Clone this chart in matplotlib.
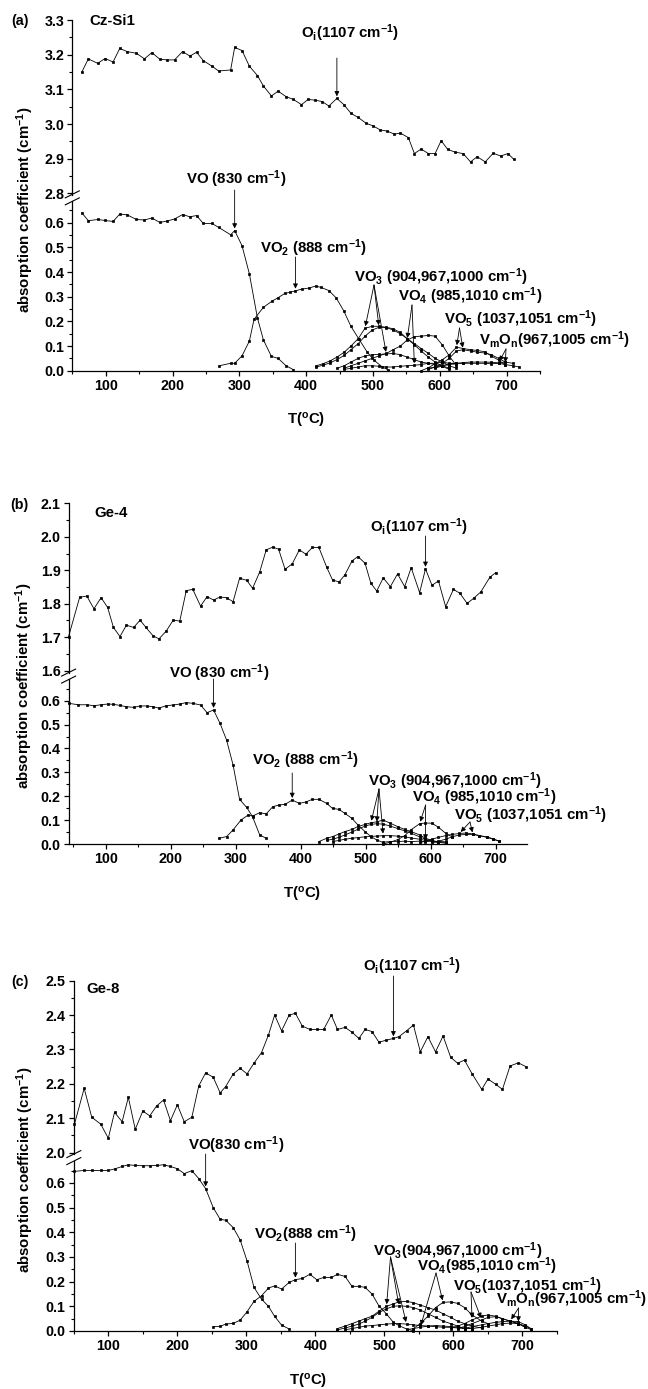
import numpy as np
import matplotlib
matplotlib.use('Agg')
import matplotlib.pyplot as plt
from matplotlib.ticker import MultipleLocator
from matplotlib.lines import Line2D

W, H = 648, 1389

plt.rcParams['font.family'] = ['Liberation Sans', 'DejaVu Sans']
plt.rcParams['font.weight'] = 'bold'
plt.rcParams['mathtext.default'] = 'regular'

TICK_FS = 10.3
TEXT_FS = 10.8
LW = 0.6
MS = 1.9

# ---------------- (a) Cz-Si1 ----------------
a_oi_T = [64, 74, 88, 99, 111, 121, 132, 146, 158, 169, 181, 192, 203, 215, 226, 236, 246, 259, 269, 287,
          293, 304, 315, 327, 336, 348, 358, 370, 381, 393, 403, 413, 424, 434, 446, 457, 467, 478, 490, 500,
          511, 521, 532, 541, 553, 562, 572, 583, 593, 602, 612, 623, 635, 646, 656, 668, 680, 691, 702, 711]
a_oi = [3.149, 3.188, 3.175, 3.189, 3.179, 3.218, 3.209, 3.204, 3.188, 3.206, 3.187, 3.185, 3.185, 3.209, 3.196,
        3.207, 3.183, 3.167, 3.153, 3.156, 3.221, 3.212, 3.167, 3.140, 3.110, 3.081, 3.095, 3.079, 3.071, 3.056,
        3.071, 3.069, 3.065, 3.052, 3.074, 3.055, 3.031, 3.019, 3.002, 2.995, 2.983, 2.980, 2.971, 2.974, 2.961,
        2.915, 2.928, 2.915, 2.915, 2.952, 2.927, 2.919, 2.915, 2.891, 2.906, 2.891, 2.916, 2.908, 2.915, 2.898]

a_vo_T = [64, 74, 88, 99, 111, 121, 132, 146, 158, 169, 181, 192, 203, 215, 226, 236, 246, 259, 269, 287,
          293, 304, 315, 327, 336, 348, 358, 370, 381]
a_vo = [0.641, 0.608, 0.613, 0.609, 0.605, 0.635, 0.632, 0.613, 0.611, 0.619, 0.601, 0.607, 0.615, 0.633, 0.624,
        0.629, 0.597, 0.597, 0.581, 0.551, 0.568, 0.507, 0.393, 0.215, 0.125, 0.058, 0.050, 0.020, 0.004]

a_vo2_T = [270, 287, 293, 304, 315, 322, 336, 349, 358, 368, 376, 384, 394, 404, 414, 422, 434, 445, 456, 467,
           479, 491, 501, 513, 522]
a_vo2 = [0.020, 0.030, 0.030, 0.060, 0.120, 0.208, 0.257, 0.282, 0.296, 0.313, 0.318, 0.324, 0.331, 0.335, 0.343,
         0.338, 0.325, 0.295, 0.244, 0.180, 0.128, 0.077, 0.044, 0.017, 0.004]

a_vo3_1_T = [415, 425, 436, 446, 457, 467, 478, 488, 499, 509, 520, 530, 541, 551, 562, 572, 583, 593, 604, 614]
a_vo3_1 = [0.020, 0.028, 0.040, 0.055, 0.075, 0.100, 0.130, 0.172, 0.180, 0.180, 0.176, 0.170, 0.155, 0.130, 0.105,
           0.080, 0.055, 0.035, 0.018, 0.005]
a_vo3_2_T = [415, 425, 436, 446, 457, 467, 478, 488, 499, 509, 520, 530, 541, 551, 562, 572, 583, 593, 604, 614, 625]
a_vo3_2 = [0.015, 0.022, 0.032, 0.045, 0.062, 0.085, 0.110, 0.140, 0.165, 0.176, 0.175, 0.165, 0.150, 0.130, 0.110,
           0.090, 0.070, 0.050, 0.035, 0.020, 0.010]
a_vo3_3_T = [446, 457, 467, 478, 488, 499, 509, 520, 530, 541, 551, 562, 572, 583, 593, 604, 614]
a_vo3_3 = [0.010, 0.020, 0.035, 0.050, 0.060, 0.065, 0.066, 0.068, 0.070, 0.065, 0.055, 0.045, 0.035, 0.030, 0.025,
           0.020, 0.010]
a_vo4_1_T = [457, 467, 478, 488, 499, 509, 520, 530, 541, 551, 562, 572, 583, 593, 604, 614, 625]
a_vo4_1 = [0.010, 0.020, 0.030, 0.040, 0.050, 0.060, 0.070, 0.085, 0.100, 0.124, 0.138, 0.140, 0.143, 0.140, 0.104,
           0.060, 0.020]
a_vo4_2_T = [457, 467, 478, 488, 499, 509, 520, 530, 541, 551, 562, 572, 583, 593, 604, 614, 625]
a_vo4_2 = [0.005, 0.010, 0.015, 0.020, 0.020, 0.018, 0.015, 0.015, 0.018, 0.020, 0.022, 0.025, 0.030, 0.030, 0.035,
           0.030, 0.030]
a_vo5_1_T = [572, 583, 593, 604, 614, 625, 635, 646, 656, 667, 677, 688, 698]
a_vo5_1 = [0.000, 0.012, 0.028, 0.045, 0.064, 0.095, 0.090, 0.085, 0.082, 0.077, 0.060, 0.043, 0.023]
a_vo5_2_T = [583, 593, 604, 614, 625, 635, 646, 656, 667, 677, 688, 698]
a_vo5_2 = [0.005, 0.015, 0.030, 0.050, 0.080, 0.085, 0.080, 0.075, 0.072, 0.065, 0.050, 0.035]
a_vmon_1_T = [593, 604, 614, 625, 635, 646, 656, 667, 677, 688, 698, 709]
a_vmon_1 = [0.010, 0.020, 0.028, 0.030, 0.033, 0.035, 0.035, 0.035, 0.034, 0.032, 0.035, 0.030]
a_vmon_2_T = [583, 593, 604, 614, 625, 635, 646, 656, 667, 677, 688, 698, 709, 719]
a_vmon_2 = [0.010, 0.015, 0.020, 0.025, 0.028, 0.030, 0.030, 0.030, 0.030, 0.028, 0.030, 0.025, 0.020, 0.015]

# ---------------- (b) Ge-4 ----------------
b_oi_T = [43, 60, 71, 82, 93, 103, 112, 122, 132, 143, 153, 162, 173, 182, 193, 204, 214, 224, 234, 246,
          256, 266, 276, 286, 296, 306, 317, 326, 337, 347, 357, 366, 376, 387, 398, 408, 418, 428, 440, 449,
          459, 468, 479, 488, 499, 508, 517, 527, 538, 549, 560, 570, 583, 592, 602, 612, 623, 635, 645, 656,
          666, 677, 691, 700]
b_oi = [1.702, 1.819, 1.823, 1.785, 1.818, 1.789, 1.729, 1.702, 1.736, 1.729, 1.751, 1.729, 1.704, 1.695, 1.718,
        1.751, 1.748, 1.839, 1.843, 1.793, 1.821, 1.811, 1.820, 1.818, 1.806, 1.876, 1.870, 1.846, 1.895, 1.961,
        1.969, 1.963, 1.903, 1.919, 1.961, 1.948, 1.968, 1.968, 1.909, 1.871, 1.865, 1.886, 1.928, 1.941, 1.921,
        1.861, 1.838, 1.877, 1.851, 1.889, 1.851, 1.908, 1.833, 1.904, 1.855, 1.868, 1.791, 1.843, 1.831, 1.801,
        1.816, 1.835, 1.879, 1.893]

b_vo_T = [43, 58, 71, 82, 93, 103, 112, 122, 132, 143, 153, 163, 173, 182, 193, 204, 214, 224, 234, 246,
          256, 266, 276, 286, 296, 306, 317, 326, 337, 347]
b_vo = [0.589, 0.583, 0.583, 0.579, 0.583, 0.586, 0.585, 0.580, 0.575, 0.572, 0.578, 0.578, 0.575, 0.569, 0.579,
        0.582, 0.586, 0.592, 0.589, 0.582, 0.550, 0.561, 0.505, 0.435, 0.331, 0.187, 0.153, 0.114, 0.038, 0.024]

b_vo2_T = [274, 286, 296, 308, 319, 326, 337, 347, 357, 366, 376, 387, 398, 408, 418, 428, 440, 449, 459, 468,
           479, 488, 499, 508, 517, 527]
b_vo2 = [0.024, 0.031, 0.059, 0.100, 0.121, 0.117, 0.131, 0.126, 0.156, 0.163, 0.166, 0.184, 0.170, 0.176, 0.187,
         0.187, 0.170, 0.149, 0.145, 0.128, 0.107, 0.080, 0.052, 0.031, 0.017, 0.006]

b_vo3_1_T = [428, 440, 449, 459, 468, 479, 488, 499, 508, 517, 527, 538, 549, 560, 570, 583, 592, 602, 612, 623]
b_vo3_1 = [0.010, 0.024, 0.031, 0.042, 0.052, 0.061, 0.073, 0.082, 0.089, 0.093, 0.100, 0.087, 0.073, 0.061, 0.052,
           0.038, 0.024, 0.015, 0.008, 0.003]
b_vo3_2_T = [440, 449, 459, 468, 479, 488, 499, 508, 517, 527, 538, 549, 560, 570, 583, 592, 602, 612]
b_vo3_2 = [0.015, 0.020, 0.028, 0.038, 0.050, 0.062, 0.075, 0.082, 0.085, 0.083, 0.075, 0.065, 0.055, 0.045, 0.030,
           0.020, 0.012, 0.005]
b_vo3_3_T = [449, 459, 468, 479, 488, 499, 508, 517, 527, 538, 549, 560, 570, 583, 592, 602, 612, 623]
b_vo3_3 = [0.010, 0.015, 0.020, 0.024, 0.027, 0.030, 0.032, 0.033, 0.035, 0.035, 0.033, 0.030, 0.025, 0.020, 0.015,
           0.012, 0.010, 0.008]
b_vo4_1_T = [527, 538, 549, 560, 570, 583, 592, 602, 612, 623, 633]
b_vo4_1 = [0.000, 0.008, 0.018, 0.035, 0.060, 0.085, 0.088, 0.087, 0.070, 0.045, 0.030]
b_vo4_2_T = [527, 538, 549, 560, 570, 583, 592, 602, 612, 623]
b_vo4_2 = [0.008, 0.010, 0.010, 0.012, 0.010, 0.012, 0.010, 0.012, 0.010, 0.008]
b_vo5_1_T = [583, 592, 602, 612, 623, 633, 644, 654, 665, 675, 686, 696, 705]
b_vo5_1 = [0.005, 0.012, 0.020, 0.028, 0.035, 0.040, 0.044, 0.046, 0.042, 0.035, 0.028, 0.020, 0.012]
b_vo5_2_T = [602, 612, 623, 633, 644, 654, 665, 675, 686, 696, 705]
b_vo5_2 = [0.005, 0.012, 0.020, 0.030, 0.038, 0.040, 0.040, 0.035, 0.030, 0.022, 0.012]

# ---------------- (c) Ge-8 ----------------
c_oi_T = [51, 65, 76, 89, 100, 109, 120, 129, 139, 150, 160, 170, 180, 190, 200, 210, 221, 231, 241, 252,
          262, 270, 281, 291, 301, 311, 322, 332, 341, 351, 362, 371, 381, 392, 402, 412, 423, 432, 443, 453,
          463, 472, 482, 492, 503, 513, 521, 532, 542, 552, 563, 574, 585, 596, 606, 616, 627, 641, 650, 661,
          671, 682, 694, 705]
c_oi = [2.083, 2.187, 2.103, 2.083, 2.042, 2.117, 2.090, 2.161, 2.068, 2.121, 2.107, 2.136, 2.153, 2.093, 2.139,
        2.090, 2.103, 2.194, 2.232, 2.219, 2.174, 2.192, 2.229, 2.245, 2.229, 2.260, 2.291, 2.342, 2.400, 2.354,
        2.400, 2.405, 2.368, 2.358, 2.358, 2.358, 2.400, 2.358, 2.364, 2.350, 2.332, 2.358, 2.352, 2.321, 2.327,
        2.332, 2.337, 2.354, 2.371, 2.293, 2.337, 2.293, 2.339, 2.277, 2.260, 2.269, 2.229, 2.184, 2.214, 2.199,
        2.184, 2.252, 2.261, 2.250]

c_vo_T = [51, 65, 76, 89, 100, 109, 120, 129, 139, 150, 160, 170, 180, 190, 200, 210, 221, 231, 241, 252,
          262, 270, 281, 291, 301, 311, 322, 332, 341, 351, 362]
c_vo = [0.647, 0.651, 0.651, 0.651, 0.651, 0.657, 0.667, 0.674, 0.671, 0.670, 0.670, 0.671, 0.674, 0.667, 0.658,
        0.638, 0.650, 0.618, 0.577, 0.500, 0.453, 0.449, 0.419, 0.369, 0.284, 0.177, 0.129, 0.100, 0.059, 0.024,
        0.008]

c_vo2_T = [252, 262, 270, 281, 291, 301, 311, 322, 332, 341, 351, 362, 371, 381, 392, 402, 412, 423, 432, 443,
           453, 463, 472, 482, 492, 503, 513, 521, 532, 542]
c_vo2 = [0.018, 0.019, 0.028, 0.031, 0.044, 0.078, 0.120, 0.143, 0.174, 0.183, 0.170, 0.197, 0.208, 0.213, 0.230,
         0.208, 0.217, 0.217, 0.230, 0.221, 0.181, 0.181, 0.177, 0.150, 0.102, 0.069, 0.035, 0.022, 0.008, 0.001]

c_vo3_1_T = [432, 443, 453, 463, 472, 482, 492, 503, 513, 521, 532, 542, 552, 563, 574, 585, 596, 606, 616, 627, 641]
c_vo3_1 = [0.010, 0.020, 0.030, 0.040, 0.050, 0.060, 0.080, 0.100, 0.110, 0.118, 0.120, 0.115, 0.105, 0.095, 0.085,
           0.070, 0.055, 0.040, 0.030, 0.020, 0.012]
c_vo3_2_T = [432, 443, 453, 463, 472, 482, 492, 503, 513, 521, 532, 542, 552, 563, 574, 585, 596, 606, 616]
c_vo3_2 = [0.005, 0.012, 0.020, 0.028, 0.040, 0.055, 0.075, 0.090, 0.100, 0.102, 0.100, 0.095, 0.085, 0.070, 0.055,
           0.040, 0.030, 0.020, 0.010]
c_vo3_3_T = [443, 453, 463, 472, 482, 492, 503, 513, 521, 532, 542, 552, 563, 574, 585, 596, 606, 616, 627]
c_vo3_3 = [0.005, 0.010, 0.015, 0.020, 0.022, 0.025, 0.028, 0.030, 0.030, 0.028, 0.025, 0.022, 0.020, 0.018, 0.015,
           0.015, 0.012, 0.010, 0.010]
c_vo4_1_T = [542, 552, 563, 574, 585, 596, 606, 616, 627, 641, 650]
c_vo4_1 = [0.010, 0.030, 0.060, 0.095, 0.116, 0.118, 0.112, 0.095, 0.065, 0.040, 0.030]
c_vo4_2_T = [532, 542, 552, 563, 574, 585, 596, 606, 616, 627]
c_vo4_2 = [0.005, 0.010, 0.015, 0.020, 0.022, 0.020, 0.018, 0.015, 0.012, 0.010]
c_vo5_1_T = [596, 606, 616, 627, 641, 650, 661, 671, 682, 694, 704, 713]
c_vo5_1 = [0.010, 0.020, 0.030, 0.045, 0.060, 0.065, 0.060, 0.050, 0.040, 0.030, 0.015, 0.005]
c_vo5_2_T = [606, 616, 627, 641, 650, 661, 671, 682, 694, 704]
c_vo5_2 = [0.010, 0.018, 0.030, 0.045, 0.055, 0.058, 0.050, 0.040, 0.030, 0.015]
c_vmon_1_T = [616, 627, 641, 650, 661, 671, 682, 694, 704, 713]
c_vmon_1 = [0.010, 0.018, 0.025, 0.030, 0.035, 0.038, 0.040, 0.038, 0.025, 0.008]
c_vmon_2_T = [627, 641, 650, 661, 671, 682, 694, 704, 713]
c_vmon_2 = [0.010, 0.015, 0.020, 0.025, 0.030, 0.032, 0.030, 0.020, 0.008]

fig = plt.figure(figsize=(W / 100, H / 100), dpi=100)


def add_axes_px(x0, x1, ytop, ybot):
    return fig.add_axes([x0 / W, 1 - ybot / H, (x1 - x0) / W, (ybot - ytop) / H])


def style_axes(ax, top):
    ax.set_facecolor('none')
    for s in ['top', 'right']:
        ax.spines[s].set_visible(False)
    for s in ax.spines.values():
        s.set_linewidth(0.9)
    ax.yaxis.set_major_locator(MultipleLocator(0.1))
    ax.yaxis.set_minor_locator(MultipleLocator(0.05))
    ax.tick_params(which='major', direction='out', length=3.8, width=0.9, labelsize=TICK_FS, pad=2)
    ax.tick_params(which='minor', direction='out', length=2.2, width=0.8)
    if top:
        ax.spines['bottom'].set_visible(False)
        ax.tick_params(axis='x', which='both', bottom=False, labelbottom=False)
    else:
        ax.xaxis.set_major_locator(MultipleLocator(100))
        ax.xaxis.set_minor_locator(MultipleLocator(50))


def curve(ax, T, v):
    ax.plot(T, v, '-s', color='k', lw=LW, ms=MS, mfc='k', mec='k', mew=0.5, clip_on=False)


def pt(T, v, t):
    i = int(np.argmin(np.abs(np.array(T) - t)))
    return (T[i], v[i])


def vtext(x, y, s, fs=TEXT_FS):
    # x = left edge, y = visual centre of the capitals, in pixels from top
    base = y + 0.5 * 0.72 * fs * 100 / 72
    fig.text(x / W, 1 - base / H, s, fontsize=fs, ha='left', va='baseline', fontweight='bold')


AP = dict(arrowstyle='-|>', color='k', lw=0.6, mutation_scale=7, shrinkA=0, shrinkB=1.5)


def arrow_v(ax, tip, ystart):
    ax.annotate('', xy=tip, xycoords='data', xytext=(tip[0], H - ystart),
                textcoords=('data', 'figure pixels'), arrowprops=AP, annotation_clip=False)


def arrow_s(ax, tip, start):
    ax.annotate('', xy=tip, xycoords='data', xytext=(start[0], H - start[1]),
                textcoords='figure pixels', arrowprops=AP, annotation_clip=False)


def breakmark(x, y):
    for dy in (-3.5, 3.5):
        fig.add_artist(Line2D([(x - 7) / W, (x + 7) / W],
                              [1 - (y + dy + 3.5) / H, 1 - (y + dy - 3.5) / H],
                              color='k', lw=0.8, transform=fig.transFigure))


def panel(x0, x1, xlim, top_box, top_lim, bot_box, bot_lim):
    ax_t = add_axes_px(x0, x1, top_box[0], top_box[1])
    ax_b = add_axes_px(x0, x1, bot_box[0], bot_box[1])
    for ax, lim, top in ((ax_t, top_lim, True), (ax_b, bot_lim, False)):
        ax.set_xlim(*xlim)
        ax.set_ylim(*lim)
        style_axes(ax, top)
    breakmark(x0, (top_box[1] + bot_box[0]) / 2)
    return ax_t, ax_b


def axis_labels(xl, yl):
    fig.text(xl[0] / W, 1 - xl[1] / H, r'T($^{o}$C)', fontsize=TEXT_FS, ha='center', va='center')
    fig.text(yl[0] / W, 1 - yl[1] / H, r'absorption coefficient (cm$^{-1}$)', fontsize=TEXT_FS,
             rotation=90, ha='center', va='center')


# ---------------- panel (a) ----------------
at, ab = panel(72.3, 540, (50, 750), (20, 195.2), (2.795, 3.3), (200.5, 370.7), (0, 0.69))
curve(at, a_oi_T, a_oi)
for T, v in [(a_vo_T, a_vo), (a_vo2_T, a_vo2), (a_vo3_1_T, a_vo3_1), (a_vo3_2_T, a_vo3_2),
             (a_vo3_3_T, a_vo3_3), (a_vo4_1_T, a_vo4_1), (a_vo4_2_T, a_vo4_2), (a_vo5_1_T, a_vo5_1),
             (a_vo5_2_T, a_vo5_2), (a_vmon_1_T, a_vmon_1), (a_vmon_2_T, a_vmon_2)]:
    curve(ab, T, v)

vtext(11, 20, '(a)', TICK_FS)
vtext(89, 20, 'Cz-Si1')
vtext(301, 33, r'O$_i$(1107 cm$^{-1}$)')
arrow_v(at, pt(a_oi_T, a_oi, 446), 58)
vtext(186, 179, r'VO (830 cm$^{-1}$)')
arrow_v(ab, pt(a_vo_T, a_vo, 293), 190)
vtext(259.5, 248, r'VO$_2$ (888 cm$^{-1}$)')
arrow_v(ab, pt(a_vo2_T, a_vo2, 384), 257)
vtext(354.5, 277, r'VO$_3$ (904,967,1000 cm$^{-1}$)')
for T, v, t in [(a_vo3_1_T, a_vo3_1, 488), (a_vo3_2_T, a_vo3_2, 509), (a_vo3_3_T, a_vo3_3, 520)]:
    arrow_s(ab, pt(T, v, t), (374, 285))
vtext(397.5, 295.5, r'VO$_4$ (985,1010 cm$^{-1}$)')
for T, v, t in [(a_vo4_1_T, a_vo4_1, 551), (a_vo4_2_T, a_vo4_2, 562)]:
    arrow_s(ab, pt(T, v, t), (412, 305))
vtext(444, 319, r'VO$_5$ (1037,1051 cm$^{-1}$)')
for T, v, t in [(a_vo5_1_T, a_vo5_1, 625), (a_vo5_2_T, a_vo5_2, 635)]:
    arrow_s(ab, pt(T, v, t), (459.5, 328))
vtext(479, 340, r'V$_m$O$_n$(967,1005 cm$^{-1}$)')
for T, v, t in [(a_vmon_1_T, a_vmon_1, 688), (a_vmon_2_T, a_vmon_2, 698)]:
    arrow_s(ab, pt(T, v, t), (506, 349))
axis_labels((306, 420), (25, 210))

# ---------------- panel (b) ----------------
bt, bb = panel(68.6, 526.9, (43, 748), (503.3, 673.0), (1.593, 2.1), (679.2, 844), (0, 0.69))
curve(bt, b_oi_T, b_oi)
for T, v in [(b_vo_T, b_vo), (b_vo2_T, b_vo2), (b_vo3_1_T, b_vo3_1), (b_vo3_2_T, b_vo3_2),
             (b_vo3_3_T, b_vo3_3), (b_vo4_1_T, b_vo4_1), (b_vo4_2_T, b_vo4_2), (b_vo5_1_T, b_vo5_1),
             (b_vo5_2_T, b_vo5_2)]:
    curve(bb, T, v)

vtext(10, 504, '(b)', TICK_FS)
vtext(94, 512, 'Ge-4')
vtext(370, 527, r'O$_i$(1107 cm$^{-1}$)')
arrow_v(bt, pt(b_oi_T, b_oi, 592), 536)
vtext(169, 673, r'VO (830 cm$^{-1}$)')
arrow_v(bb, pt(b_vo_T, b_vo, 266), 679)
vtext(252, 760, r'VO$_2$ (888 cm$^{-1}$)')
arrow_v(bb, pt(b_vo2_T, b_vo2, 387), 773)
vtext(368, 781, r'VO$_3$ (904,967,1000 cm$^{-1}$)')
for T, v, t in [(b_vo3_1_T, b_vo3_1, 508), (b_vo3_2_T, b_vo3_2, 517), (b_vo3_3_T, b_vo3_3, 527)]:
    arrow_s(bb, pt(T, v, t), (379, 789))
vtext(412, 797, r'VO$_4$ (985,1010 cm$^{-1}$)')
for T, v, t in [(b_vo4_1_T, b_vo4_1, 583), (b_vo4_2_T, b_vo4_2, 592)]:
    arrow_s(bb, pt(T, v, t), (425.6, 805))
vtext(454.5, 815, r'VO$_5$ (1037,1051 cm$^{-1}$)')
for T, v, t in [(b_vo5_1_T, b_vo5_1, 644), (b_vo5_2_T, b_vo5_2, 665)]:
    arrow_s(bb, pt(T, v, t), (470, 822))
axis_labels((302, 894), (24, 686))

# ---------------- panel (c) ----------------
ct, cb = panel(73.8, 557, (50, 750), (980.6, 1154.4), (1.995, 2.5), (1160.8, 1331), (0, 0.69))
curve(ct, c_oi_T, c_oi)
for T, v in [(c_vo_T, c_vo), (c_vo2_T, c_vo2), (c_vo3_1_T, c_vo3_1), (c_vo3_2_T, c_vo3_2),
             (c_vo3_3_T, c_vo3_3), (c_vo4_1_T, c_vo4_1), (c_vo4_2_T, c_vo4_2), (c_vo5_1_T, c_vo5_1),
             (c_vo5_2_T, c_vo5_2), (c_vmon_1_T, c_vmon_1), (c_vmon_2_T, c_vmon_2)]:
    curve(cb, T, v)

vtext(11, 981, '(c)', TICK_FS)
vtext(86, 988, 'Ge-8')
vtext(363, 966, r'O$_i$(1107 cm$^{-1}$)')
arrow_v(ct, pt(c_oi_T, c_oi, 513), 976)
vtext(188, 1145, r'VO(830 cm$^{-1}$)')
arrow_v(cb, pt(c_vo_T, c_vo, 241), 1154)
vtext(254, 1234, r'VO$_2$(888 cm$^{-1}$)')
arrow_v(cb, pt(c_vo2_T, c_vo2, 371), 1243)
vtext(373, 1251, r'VO$_3$(904,967,1000 cm$^{-1}$)')
for T, v, t in [(c_vo3_1_T, c_vo3_1, 503), (c_vo3_2_T, c_vo3_2, 521), (c_vo3_3_T, c_vo3_3, 532)]:
    arrow_s(cb, pt(T, v, t), (390.5, 1257))
vtext(417, 1266, r'VO$_4$(985,1010 cm$^{-1}$)')
for T, v, t in [(c_vo4_2_T, c_vo4_2, 552), (c_vo4_1_T, c_vo4_1, 585)]:
    arrow_s(cb, pt(T, v, t), (436, 1273))
vtext(452.5, 1286, r'VO$_5$(1037,1051 cm$^{-1}$)')
for T, v, t in [(c_vo5_1_T, c_vo5_1, 627), (c_vo5_2_T, c_vo5_2, 641)]:
    arrow_s(cb, pt(T, v, t), (471, 1292))
vtext(496, 1299, r'V$_m$O$_n$(967,1005 cm$^{-1}$)')
for T, v, t in [(c_vmon_1_T, c_vmon_1, 682), (c_vmon_2_T, c_vmon_2, 694)]:
    arrow_s(cb, pt(T, v, t), (518.6, 1308))
axis_labels((308, 1381), (25, 1170))

fig.savefig('out.png', dpi=100, facecolor='white')
